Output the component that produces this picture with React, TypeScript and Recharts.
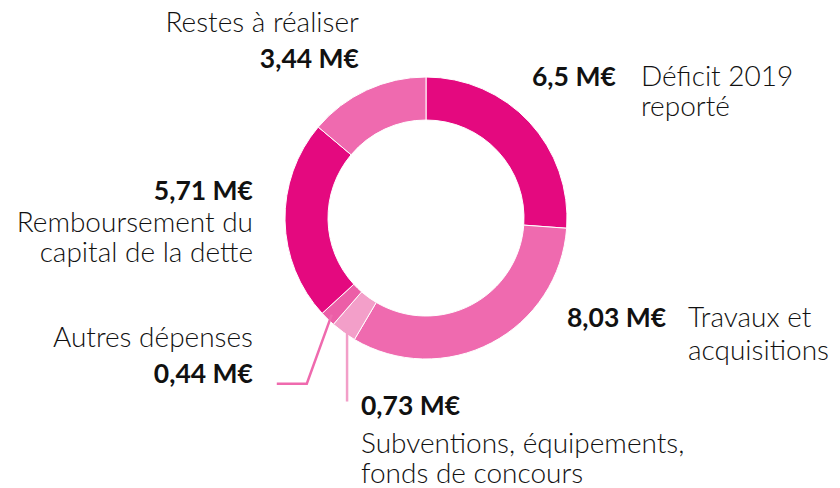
import { PieChart, Pie, Cell } from 'recharts';

const categories = [
  'Déficit 2019 reporté',
  'Travaux et acquisitions',
  'Subventions, équipements, fonds de concours',
  'Autres dépenses',
  'Remboursement du capital de la dette',
  'Restes à réaliser',
];
const values = [6.5, 8.03, 0.73, 0.44, 5.71, 3.44];
const nameLines = [
  ['Déficit 2019', 'reporté'],
  ['Travaux et', 'acquisitions'],
  ['Subventions, équipements,', 'fonds de concours'],
  ['Autres dépenses'],
  ['Remboursement du', 'capital de la dette'],
  ['Restes à réaliser'],
];
const colors = ['#e4097f', '#ef6aaf', '#f39fc9', '#ec5ea7', '#e4097f', '#ef6aaf'];

const data = categories.map((name, i) => ({ name, value: values[i] }));

const fmt = (v: number) => `${String(v).replace('.', ',')} M€`;

// text placement for each slice's annotation
const layout: Record<number, any> = {
  0: { value: { x: 532, y: 86, anchor: 'start' }, name: { x: 641, ys: [86, 116], anchor: 'start' } },
  1: { value: { x: 567, y: 327, anchor: 'start' }, name: { x: 688, ys: [327, 360], anchor: 'start' } },
  2: { value: { x: 361, y: 415, anchor: 'start' }, name: { x: 361, ys: [453, 483], anchor: 'start' },
       leader: [[0, 74]], lineColor: '#f29fc8' },
  3: { value: { x: 253, y: 383, anchor: 'end' }, name: { x: 253, ys: [347], anchor: 'end' },
       leader: [[-25, 69], [-55, 69]], lineColor: '#ef6aae' },
  4: { value: { x: 253, y: 200, anchor: 'end' }, name: { x: 253, ys: [232, 262], anchor: 'end' } },
  5: { value: { x: 359, y: 68, anchor: 'end' }, name: { x: 359, ys: [32], anchor: 'end' } },
};

const RAD = Math.PI / 180;

const renderLabel = (props: any) => {
  const { cx, cy, midAngle, index } = props;
  const l = layout[index];
  if (!l) return null;
  let leader = null;
  if (l.leader) {
    const r = 135;
    const sx = cx + r * Math.cos(-midAngle * RAD);
    const sy = cy + r * Math.sin(-midAngle * RAD);
    const pts = [[sx, sy], ...l.leader.map((p: number[]) => [sx + p[0], sy + p[1]])];
    leader = (
      <polyline
        points={pts.map((p) => p.join(',')).join(' ')}
        fill="none"
        stroke={l.lineColor}
        strokeWidth={2.5}
      />
    );
  }
  return (
    <g key={`lbl-${index}`}>
      {leader}
      <text
        x={l.value.x}
        y={l.value.y}
        textAnchor={l.value.anchor}
        fontFamily="Lato"
        fontWeight={700}
        fontSize={26.5}
        fill="#111"
      >
        {fmt(values[index])}
      </text>
      {nameLines[index].map((line, j) => (
        <text
          key={j}
          x={l.name.x}
          y={l.name.ys[j]}
          textAnchor={l.name.anchor}
          fontFamily="Lato"
          fontWeight={300}
          fontSize={28}
          fill="#111"
        >
          {line}
        </text>
      ))}
    </g>
  );
};

export default function App() {
  return (
    <div style={{ position: 'absolute', left: 0, top: 0, width: 840, height: 488, background: '#fff' }}>
      <PieChart width={840} height={488} margin={{ top: 0, right: 0, bottom: 0, left: 0 }}>
        <Pie
          data={data}
          dataKey="value"
          nameKey="name"
          cx={426}
          cy={218}
          innerRadius={98}
          outerRadius={141}
          startAngle={90}
          endAngle={-270}
          stroke="#fff"
          strokeWidth={1}
          label={renderLabel}
          labelLine={false}
          isAnimationActive={false}
        >
          {data.map((entry, i) => (
            <Cell key={`cell-${i}`} fill={colors[i]} />
          ))}
        </Pie>
      </PieChart>
    </div>
  );
}
